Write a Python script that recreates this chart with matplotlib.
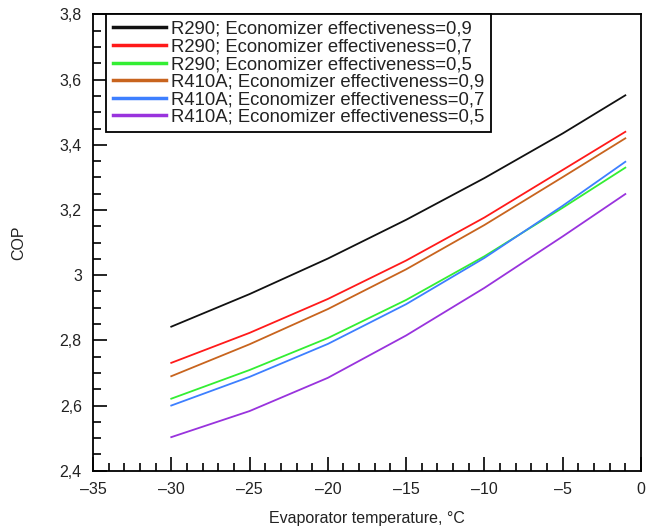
import matplotlib
matplotlib.use("Agg")
import matplotlib.pyplot as plt
from matplotlib.ticker import MultipleLocator, FuncFormatter

plt.rcParams['font.family'] = ['Liberation Sans', 'DejaVu Sans']

# Evaporator temperature (°C) and COP
temp = [-30, -25, -20, -15, -10, -5, -1]

cop_r290_09 = [2.842, 2.942, 3.051, 3.170, 3.298, 3.435, 3.552]
cop_r290_07 = [2.731, 2.823, 2.927, 3.045, 3.177, 3.323, 3.440]
cop_r290_05 = [2.621, 2.709, 2.807, 2.924, 3.058, 3.207, 3.330]
cop_r410a_09 = [2.690, 2.788, 2.896, 3.018, 3.154, 3.301, 3.420]
cop_r410a_07 = [2.600, 2.688, 2.789, 2.911, 3.053, 3.213, 3.348]
cop_r410a_05 = [2.503, 2.583, 2.685, 2.815, 2.961, 3.119, 3.249]

labels = [
    "R290; Economizer effectiveness=0,9",
    "R290; Economizer effectiveness=0,7",
    "R290; Economizer effectiveness=0,5",
    "R410A; Economizer effectiveness=0,9",
    "R410A; Economizer effectiveness=0,7",
    "R410A; Economizer effectiveness=0,5",
]
series = [cop_r290_09, cop_r290_07, cop_r290_05, cop_r410a_09, cop_r410a_07, cop_r410a_05]
colors = ["#111111", "#ff1a1a", "#33ee33", "#c8641e", "#3d7fff", "#9933dd"]

fig = plt.figure(figsize=(6.47, 5.27), dpi=100)
ax = fig.add_axes([0.1437, 0.1068, 0.847, 0.8657])

for y, lab, c in zip(series, labels, colors):
    ax.plot(temp, y, color=c, linewidth=1.3, label=lab)

ax.set_xlim(-35, 0)
ax.set_ylim(2.4, 3.8)
ax.xaxis.set_major_locator(MultipleLocator(5))
ax.xaxis.set_minor_locator(MultipleLocator(1))
ax.yaxis.set_major_locator(MultipleLocator(0.2))
ax.yaxis.set_minor_locator(MultipleLocator(0.05))

def fmt(v, pos):
    s = f"{round(v, 2):g}"
    return s.replace('.', ',').replace('-', '\u2013')

ax.xaxis.set_major_formatter(FuncFormatter(fmt))
ax.yaxis.set_major_formatter(FuncFormatter(fmt))

ax.tick_params(which='both', direction='in', top=False, right=False,
               labelsize=11.5, labelcolor='#222222', width=1.2)
ax.tick_params(which='major', length=10, pad=8)
ax.tick_params(which='minor', length=6)
for sp in ax.spines.values():
    sp.set_linewidth(1.3)

ax.set_xlabel("Evaporator temperature, °C", fontsize=11.5, color='#222222', labelpad=10)
ax.set_ylabel("COP", fontsize=11.5, color='#222222', labelpad=24)

leg = ax.legend(loc='upper left', bbox_to_anchor=(0.024, 1.0), borderaxespad=0,
                fontsize=13.3, fancybox=False, framealpha=1, edgecolor='black',
                handlelength=2.9, handletextpad=0.25, labelspacing=0.03,
                borderpad=0.35)
leg.get_frame().set_linewidth(1.3)
for t in leg.get_texts():
    t.set_color('#222222')
for h in leg.get_lines():
    h.set_linewidth(2.5)

fig.savefig("out.png", dpi=100)
